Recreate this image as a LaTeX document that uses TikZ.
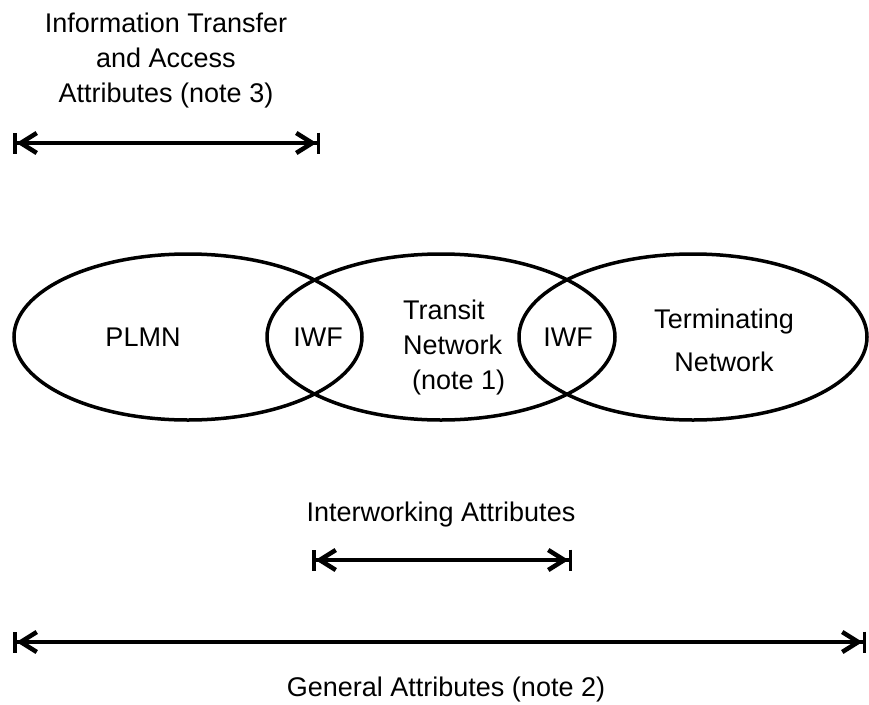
\documentclass[tikz,border=0pt]{standalone}
\usepackage{fontspec}
\setmainfont{Liberation Sans}
\usetikzlibrary{shapes.geometric}
\usetikzlibrary{arrows.meta}
\tikzset{
  netw/.style={
    % The shape:
    shape=ellipse,inner sep=0pt,
    % The size:
    minimum width=348pt,minimum height=166pt,
    % The border:
    line width=3.5pt,draw=black
  }}
\tikzset{
	lbl/.style={
		% The text
		font=\fontsize{27}{35}\selectfont,inner sep=0pt},
	span/.style={
		% The line
		line width=3.5pt,
		{Bar[width=21pt,line width=3.5pt]Straight Barb[length=16pt,width=20pt,line width=4.5pt]}-{Straight Barb[length=16pt,width=20pt,line width=4.5pt]Bar[width=21pt,line width=3.5pt]}}}

\begin{document}
\begin{tikzpicture}[x=1pt,y=-1pt]
	\useasboundingbox (0,0) rectangle (869,704);
	% The three networks
	\node[netw] (plmn) at (188,337) {};
	\node[netw] (transit) at (441,337) {};
	\node[netw] (termnet) at (693,337) {};
	% Texts in the networks
	\node[lbl] (plmnlbl) at (143,337) {PLMN};
	\node[lbl] (iwf1) at (318,337) {IWF};
	\node[lbl,align=left,anchor=west] (transitlbl) at (403,348) {Transit\\Network\\\hspace*{9pt}(note 1)};
	\node[lbl,align=center,font=\fontsize{27}{43}\selectfont] (termlbl) at (724,340) {Terminating\\Network};
	\node[lbl] (iwf2) at (568,337) {IWF};
	% Information transfer and access attributes
	\node[lbl,align=center] (italbl) at (166,61) {Information Transfer\\and Access\\Attributes (note 3)};
	\coordinate (ita1) at (13,143);
	\coordinate (ita2) at (320,143);
	\draw[span] (ita1) -- (ita2);
	% Interworking attributes
	\node[lbl] (iwalbl) at (441,515) {Interworking Attributes};
	\coordinate (iwa1) at (312,560);
	\coordinate (iwa2) at (572,560);
	\draw[span] (iwa1) -- (iwa2);
	% General attributes
	\coordinate (ga1) at (13,642);
	\coordinate (ga2) at (866,642);
	\draw[span] (ga1) -- (ga2);
	\node[lbl] (galbl) at (446,690) {General Attributes (note 2)};
\end{tikzpicture}
\end{document}
